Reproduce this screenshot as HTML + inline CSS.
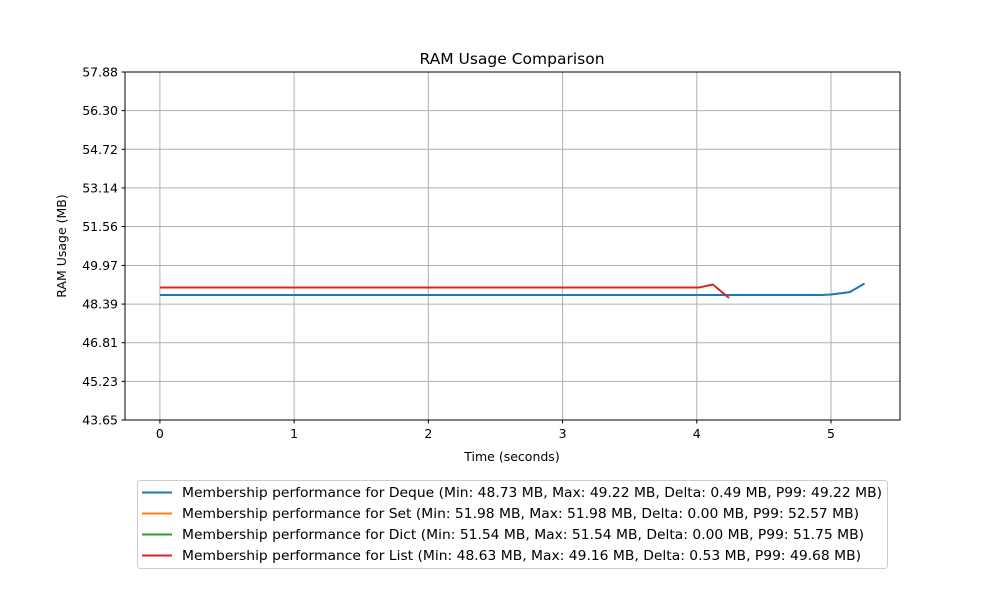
<!DOCTYPE html>
<html><head><meta charset="utf-8"><style>
body{margin:0;background:#fff;font-family:"Liberation Sans","DejaVu Sans",sans-serif;}
svg text{font-family:"DejaVu Sans","Liberation Sans",sans-serif;}
</style></head><body>
<svg id="c" width="1000" height="600" xmlns="http://www.w3.org/2000/svg"></svg>
<script>
const yTicks=[43.65,45.23,46.81,48.39,49.97,51.56,53.14,54.72,56.30,57.88];
const xTicks=[0,1,2,3,4,5];
const dequeT=[0,4.93,5.0,5.14,5.25];
const dequeV=[48.76,48.76,48.78,48.88,49.23];
const listT=[0,4.02,4.12,4.24];
const listV=[49.07,49.07,49.19,48.64];
const legendLabels=[
"Membership performance for Deque (Min: 48.73 MB, Max: 49.22 MB, Delta: 0.49 MB, P99: 49.22 MB)",
"Membership performance for Set (Min: 51.98 MB, Max: 51.98 MB, Delta: 0.00 MB, P99: 52.57 MB)",
"Membership performance for Dict (Min: 51.54 MB, Max: 51.54 MB, Delta: 0.00 MB, P99: 51.75 MB)",
"Membership performance for List (Min: 48.63 MB, Max: 49.16 MB, Delta: 0.53 MB, P99: 49.68 MB)"];
const legendColors=["#1f77b4","#ff7f0e","#2ca02c","#d62728"];
const legendTextWidths=[700,677,682,679];
const L=125,R=900,T=72,B=420;
const xMin=-0.26,xMax=5.514,yMin=43.65,yMax=57.88;
const sx=v=>L+(v-xMin)/(xMax-xMin)*(R-L);
const sy=v=>B-(v-yMin)/(yMax-yMin)*(B-T);
const svg=document.getElementById('c');
const NS='http://www.w3.org/2000/svg';
function mk(tag,attrs,parent){const e=document.createElementNS(NS,tag);for(const k in attrs)e.setAttribute(k,attrs[k]);(parent||svg).appendChild(e);return e;}
yTicks.forEach(v=>{const y=sy(v);
 const g=mk('line',{x1:L,x2:R,y1:y,y2:y,stroke:'#b0b0b0','stroke-width':1});
 
 
 mk('line',{x1:L-3.5,x2:L,y1:y,y2:y,stroke:'#000','stroke-width':1});
 const t=mk('text',{x:L-7,y:y+4.5,'text-anchor':'end','font-size':12.5});t.textContent=v.toFixed(2);
 
 
});
xTicks.forEach(v=>{const x=sx(v);
 const g=mk('line',{x1:x,x2:x,y1:T,y2:B,stroke:'#b0b0b0','stroke-width':1});
 
 
 mk('line',{x1:x,x2:x,y1:B,y2:B+3.5,stroke:'#000','stroke-width':1});
 const t=mk('text',{x:x,y:B+18,'text-anchor':'middle','font-size':12.5});t.textContent=v;
 
 
});
function series(ts,vs,color,name){
 const p=mk('polyline',{points:ts.map((t,i)=>sx(t)+','+sy(vs[i])).join(' '),fill:'none',stroke:color,'stroke-width':2,'stroke-linejoin':'round'});
 
 
}
series(dequeT,dequeV,legendColors[0],'deque-line');
series(listT,listV,legendColors[3],'list-line');
const fr=mk('rect',{x:L,y:T,width:R-L,height:B-T,fill:'none',stroke:'#000','stroke-width':1});


const ti=mk('text',{x:512,y:64,'text-anchor':'middle','font-size':15.5});ti.textContent='RAM Usage Comparison';


const xt=mk('text',{x:512,y:461,'text-anchor':'middle','font-size':12.5});xt.textContent='Time (seconds)';


const yt=mk('text',{x:66,y:246,'text-anchor':'middle','font-size':12.5,transform:'rotate(-90 66 246)'});yt.textContent='RAM Usage (MB)';


const lb=mk('rect',{x:137.5,y:480.5,width:750,height:88,fill:'#fff',stroke:'#ccc',rx:3});


legendLabels.forEach((s,i)=>{const y=492.5+i*21;
 mk('line',{x1:142,x2:172,y1:y,y2:y,stroke:legendColors[i],'stroke-width':2});
 const t=mk('text',{x:182,y:y+4.5,'font-size':13,textLength:legendTextWidths[i],lengthAdjust:'spacingAndGlyphs'});t.textContent=s;
 
 
});
</script>
</body></html>
